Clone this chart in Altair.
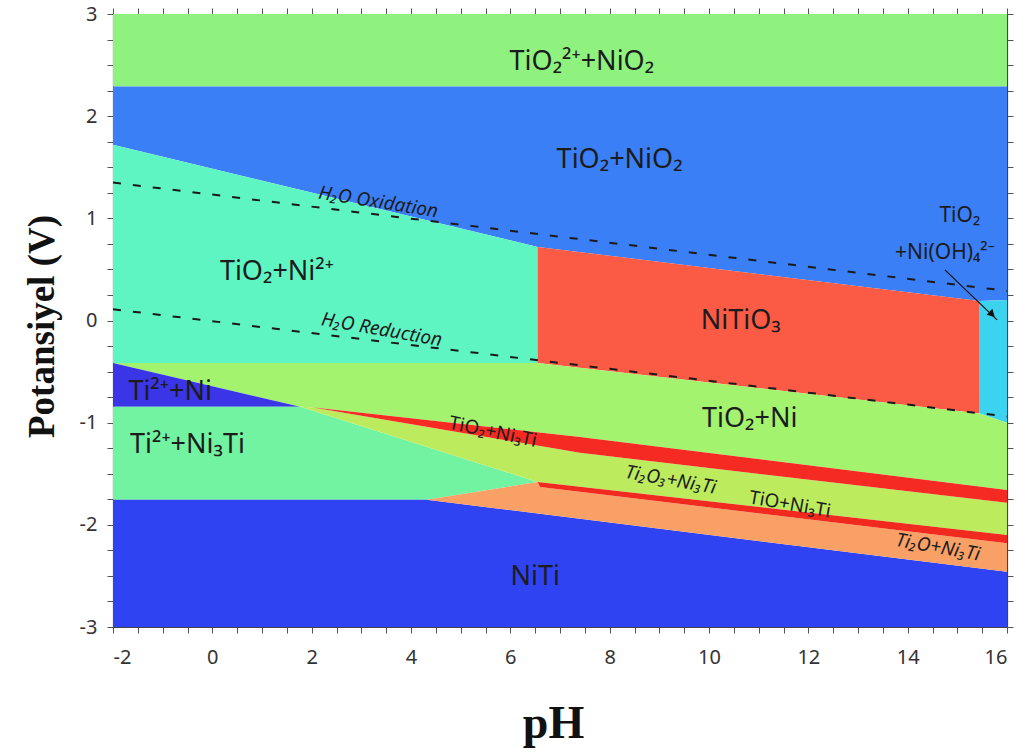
import altair as alt
import pandas as pd

# Axis ranges and tick positions
PH_RANGE = [-2, 16]
E_RANGE = [-3, 3]
PH_TICKS = [v / 2 for v in range(-4, 33)]
E_TICKS = [v / 4 for v in range(-12, 13)]

# Stability regions: boundary vertices (pH, E in V) and fill colours
REGION_NAMES = [
    "TiO2(2+)+NiO2", "TiO2+NiO2", "TiO2+Ni2+", "NiTiO3", "TiO2+Ni(OH)4(2-)",
    "TiO2+Ni", "Ti2+ +Ni", "Ti2+ +Ni3Ti", "NiTi", "Ti2O+Ni3Ti",
    "Ti2O3+Ni3Ti", "TiO2+Ni3Ti", "TiO+Ni3Ti",
]
REGION_COLORS = [
    "#8ff27f", "#3b7ff7", "#5ff5c3", "#fb5a44", "#3bd3ef",
    "#a3f36e", "#3a35e6", "#72f3a2", "#2f43f2", "#f8a065",
    "#bcec5e", "#f52a22", "#f02a1e",
]
REGION_PH = [
    [-2, 16, 16, -2],
    [-2, 16, 16, 15.45, 6.55, -2],
    [-2, 6.55, 6.55, -2],
    [6.55, 15.45, 15.45, 6.55],
    [15.45, 16, 16, 15.45],
    [-2, 6.55, 15.45, 16, 16, 7.4, 2.0, 1.77],
    [-2, 1.77, -2],
    [-2, 1.77, 6.55, 4.32, -2],
    [-2, 4.32, 16, 16, -2],
    [4.32, 6.55, 6.6, 16, 16],
    [1.77, 2.0, 7.4, 16, 16, 6.55],
    [2.0, 7.4, 16, 16, 7.4],
    [6.55, 16, 16, 6.6],
]
REGION_E = [
    [3, 3, 2.29, 2.29],
    [2.29, 2.29, 0.2, 0.19, 0.72, 1.72],
    [1.72, 0.72, -0.415, -0.415],
    [0.72, 0.19, -0.91, -0.415],
    [0.19, 0.2, -1.0, -0.91],
    [-0.415, -0.415, -0.91, -1.0, -1.66, -1.14, -0.85, -0.845],
    [-0.415, -0.845, -0.845],
    [-0.845, -0.845, -1.58, -1.755, -1.755],
    [-1.755, -1.755, -2.46, -3, -3],
    [-1.755, -1.58, -1.63, -2.18, -2.46],
    [-0.845, -0.85, -1.295, -1.785, -2.10, -1.58],
    [-0.85, -1.14, -1.66, -1.785, -1.295],
    [-1.58, -2.10, -2.18, -1.63],
]

# Water stability limits (dashed)
WATER_NAMES = ["oxidation", "reduction"]
WATER_PH = [[-2, 16], [-2, 16]]
WATER_E = [[1.35, 0.29], [0.11, -0.94]]

# Upright region labels
LABEL_TEXT = ["TiO₂²⁺+NiO₂", "TiO₂+NiO₂", "TiO₂+Ni²⁺", "NiTiO₃", "TiO₂+Ni",
              "Ti²⁺+Ni", "Ti²⁺+Ni₃Ti", "NiTi", "TiO₂", "+Ni(OH)₄²⁻"]
LABEL_PH = [7.44, 8.2, 1.3, 10.64, 10.82, -0.85, -0.5, 6.5, 15.05, 14.75]
LABEL_E = [2.53, 1.57, 0.47, 0.0, -0.96, -0.7, -1.22, -2.51, 1.02, 0.66]
LABEL_SIZE = [27, 27, 27, 27, 27, 27, 27, 27, 21, 21]

# Slanted labels along the boundaries
SLANT_TEXT = ["H₂O Oxidation", "H₂O Reduction", "Ti₂O₃+Ni₃Ti", "Ti₂O+Ni₃Ti",
              "TiO₂+Ni₃Ti", "TiO+Ni₃Ti"]
SLANT_PH = [3.34, 3.41, 9.23, 14.61, 5.65, 11.63]
SLANT_E = [1.16, -0.09, -1.56, -2.22, -1.09, -1.80]
SLANT_ANGLE = [9, 10, 10, 10, 12, 10]
SLANT_ITALIC = [True, True, True, True, False, False]

# Pointer to the narrow TiO2+Ni(OH)4 field
ARROW_PH = [14.75, 15.8]
ARROW_E = [0.495, 0.006]
ARROW_HEAD = (15.70, 0.06, 134)

FONT = "Noto Sans, DejaVu Sans, sans-serif"
TEXT_COLOR = "#1c1c1c"

rows = []
for name, xs, ys in zip(REGION_NAMES, REGION_PH, REGION_E):
    xs = xs + [xs[0]]
    ys = ys + [ys[0]]
    for i, (x, y) in enumerate(zip(xs, ys)):
        rows.append({"region": name, "ph": x, "e": y, "vertex": i})
regions = pd.DataFrame(rows)

water = pd.DataFrame([
    {"line": n, "ph": x, "e": y, "vertex": i}
    for n, xs, ys in zip(WATER_NAMES, WATER_PH, WATER_E)
    for i, (x, y) in enumerate(zip(xs, ys))
])
labels = pd.DataFrame({"text": LABEL_TEXT, "ph": LABEL_PH, "e": LABEL_E, "size": LABEL_SIZE})
slant = pd.DataFrame({"text": SLANT_TEXT, "ph": SLANT_PH, "e": SLANT_E,
                      "angle": SLANT_ANGLE, "italic": SLANT_ITALIC})
arrow = pd.DataFrame({"ph": ARROW_PH, "e": ARROW_E, "vertex": [0, 1]})
head = pd.DataFrame({"ph": [ARROW_HEAD[0]], "e": [ARROW_HEAD[1]], "angle": [ARROW_HEAD[2]]})

xs = alt.Scale(domain=PH_RANGE, nice=False, zero=False)
ys = alt.Scale(domain=E_RANGE, nice=False, zero=False)

tick_style = dict(tickSize=6, tickColor="#555", domainColor="#444", domainWidth=1.2,
                  tickWidth=1, grid=False, labelFont=FONT, labelFontSize=20,
                  labelColor="#333")

x_bottom = alt.Axis(values=PH_TICKS, orient="bottom",
                    labelExpr="datum.value % 2 == 0 ? toString(datum.value) : ''",
                    labelPadding=14, title="pH", titleFont="Liberation Serif",
                    titleFontSize=46, titleFontWeight="bold", titleColor="#111",
                    titleX=440, titleY=110, titleBaseline="alphabetic",
                    **tick_style)
y_left = alt.Axis(values=E_TICKS, orient="left",
                  labelExpr="datum.value % 1 == 0 ? toString(datum.value) : ''",
                  labelPadding=10, title="Potansiyel (V)", titleFont="Liberation Serif",
                  titleFontSize=37, titleFontWeight="bold", titleColor="#111",
                  titleAngle=270, titleX=-71, titleY=312, titleAlign="center",
                  titleBaseline="middle", **tick_style)
x_top = alt.Axis(values=PH_TICKS, orient="top", labels=False, title=None, **tick_style)
y_right = alt.Axis(values=E_TICKS, orient="right", labels=False, title=None, **tick_style)

fields = alt.Chart(regions).mark_line(filled=True, strokeWidth=0.6).encode(
    x=alt.X("ph:Q", scale=xs, axis=x_bottom),
    y=alt.Y("e:Q", scale=ys, axis=y_left),
    color=alt.Color("region:N", scale=alt.Scale(domain=REGION_NAMES, range=REGION_COLORS), legend=None),
    detail="region:N",
    order="vertex:Q",
)

water_lines = alt.Chart(water).mark_line(color="#1a1a1a", strokeWidth=2, strokeDash=[8, 12]).encode(
    x=alt.X("ph:Q", scale=xs, axis=x_top),
    y=alt.Y("e:Q", scale=ys, axis=y_right),
    detail="line:N",
    order="vertex:Q",
)

upright = alt.Chart(labels).mark_text(font=FONT, color=TEXT_COLOR, baseline="middle").encode(
    x=alt.X("ph:Q", scale=xs, axis=None),
    y=alt.Y("e:Q", scale=ys, axis=None),
    text="text:N",
    size=alt.Size("size:Q", scale=None),
)

slant_italic = alt.Chart(slant[slant["italic"]]).mark_text(
    font=FONT, fontSize=19, fontStyle="italic", color=TEXT_COLOR, baseline="middle"
).encode(
    x=alt.X("ph:Q", scale=xs, axis=None),
    y=alt.Y("e:Q", scale=ys, axis=None),
    text="text:N",
    angle=alt.Angle("angle:Q", scale=None),
)

slant_upright = alt.Chart(slant[~slant["italic"]]).mark_text(
    font=FONT, fontSize=19, color=TEXT_COLOR, baseline="middle"
).encode(
    x=alt.X("ph:Q", scale=xs, axis=None),
    y=alt.Y("e:Q", scale=ys, axis=None),
    text="text:N",
    angle=alt.Angle("angle:Q", scale=None),
)

pointer = alt.Chart(arrow).mark_line(color="#111", strokeWidth=1.2).encode(
    x=alt.X("ph:Q", scale=xs, axis=None),
    y=alt.Y("e:Q", scale=ys, axis=None),
    order="vertex:Q",
)

pointer_head = alt.Chart(head).mark_point(shape="triangle-up", filled=True, color="#111",
                                          size=70, opacity=1).encode(
    x=alt.X("ph:Q", scale=xs, axis=None),
    y=alt.Y("e:Q", scale=ys, axis=None),
    angle=alt.Angle("angle:Q", scale=None),
)

chart = alt.layer(
    fields, water_lines, upright, slant_italic, slant_upright, pointer, pointer_head
).resolve_axis(x="independent", y="independent").properties(
    width=894, height=613,
    autosize=alt.AutoSizeParams(type="none"),
    padding={"left": 113, "top": 14, "right": 28, "bottom": 126},
).configure_view(stroke=None).configure(background="white")

chart.save("out.html", embed_options={"renderer": "svg", "actions": False})
